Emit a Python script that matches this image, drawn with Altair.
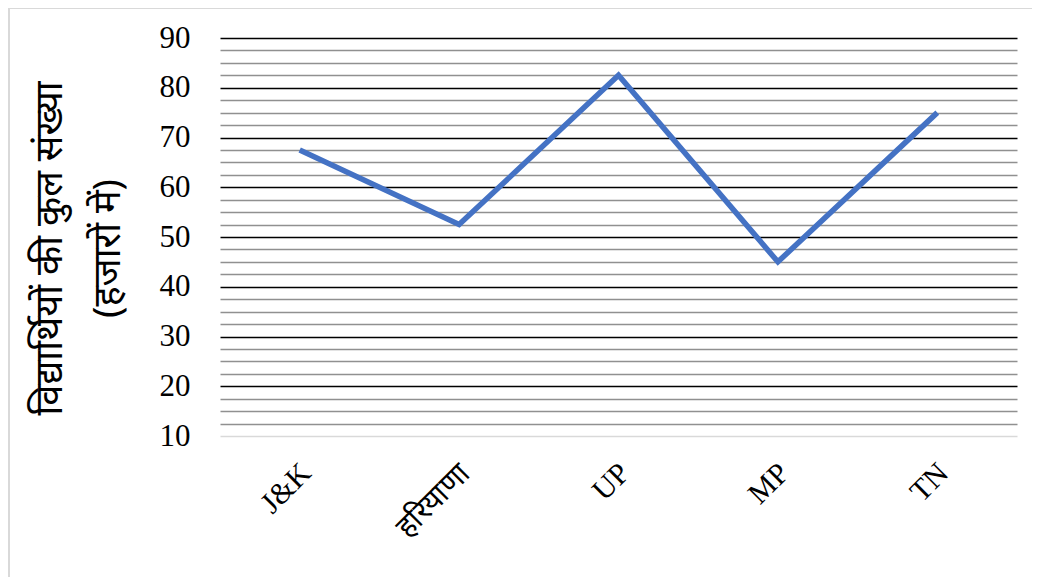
import altair as alt
import pandas as pd

states = ["J&K", "हरियाणा", "UP", "MP", "TN"]
students = [67.5, 52.5, 82.5, 45, 75]
major_ticks = [10, 20, 30, 40, 50, 60, 70, 80, 90]
minor_ticks = [12.5, 15, 17.5, 22.5, 25, 27.5, 32.5, 35, 37.5, 42.5, 45, 47.5,
               52.5, 55, 57.5, 62.5, 65, 67.5, 72.5, 75, 77.5, 82.5, 85, 87.5]
y_title = ["विद्यार्थियों की कुल संख्या", "(हजारों में)"]

df = pd.DataFrame({"state": states, "students": students})
grid_values = sorted(major_ticks + minor_ticks)

line = alt.Chart(df).mark_line(
    color="#4472C4", strokeWidth=5.5, strokeJoin="miter", strokeCap="butt"
).encode(
    x=alt.X(
        "state:N",
        sort=states,
        scale=alt.Scale(type="point", padding=0.5),
        axis=alt.Axis(
            title=None,
            labelAngle=-45,
            labelAlign="right",
            labelBaseline="middle",
            labelFont="Liberation Serif",
            labelFontSize=30,
            labelColor="black",
            labelPadding=32,
            labelOffset=6,
            ticks=False,
            grid=False,
            domainColor="#d9d9d9",
            domainWidth=1.5,
        ),
    ),
    y=alt.Y(
        "students:Q",
        scale=alt.Scale(domain=[10, 90], nice=False, zero=False),
        axis=alt.Axis(
            values=grid_values,
            labelExpr="datum.value % 10 == 0 ? datum.label : ''",
            labelFont="Liberation Serif",
            labelFontSize=31,
            labelColor="black",
            labelPadding=30,
            ticks=False,
            domain=False,
            grid=True,
            gridWidth=1.5,
            gridColor={"condition": {"test": "datum.value % 10 == 0", "value": "#000000"}, "value": "#909090"},
            gridOpacity={"condition": {"test": "datum.value == 10", "value": 0}, "value": 1},
            title=y_title,
            titleFont="Noto Sans",
            titleFontSize=38,
            titleFontWeight="normal",
            titleColor="black",
            titleLineHeight=58,
            titleAngle=270,
            titleAlign="center",
            titleBaseline="middle",
            titleX=-170,
            titleY=210,
        ),
    ),
)

frame = alt.Chart(df).mark_rect(
    fill="transparent", stroke="#d9d9d9", strokeWidth=2
).encode(
    x=alt.value(-211), x2=alt.value(900), y=alt.value(-30), y2=alt.value(700)
)

chart = alt.layer(frame, line).properties(
    width=797,
    height=398,
    padding={"left": 212, "top": 30, "right": 15, "bottom": 141},
    autosize=alt.AutoSizeParams(type="none"),
    background="white",
).configure_view(strokeWidth=0)

chart.save("out.html", embed_options={"renderer": "svg", "actions": False})
